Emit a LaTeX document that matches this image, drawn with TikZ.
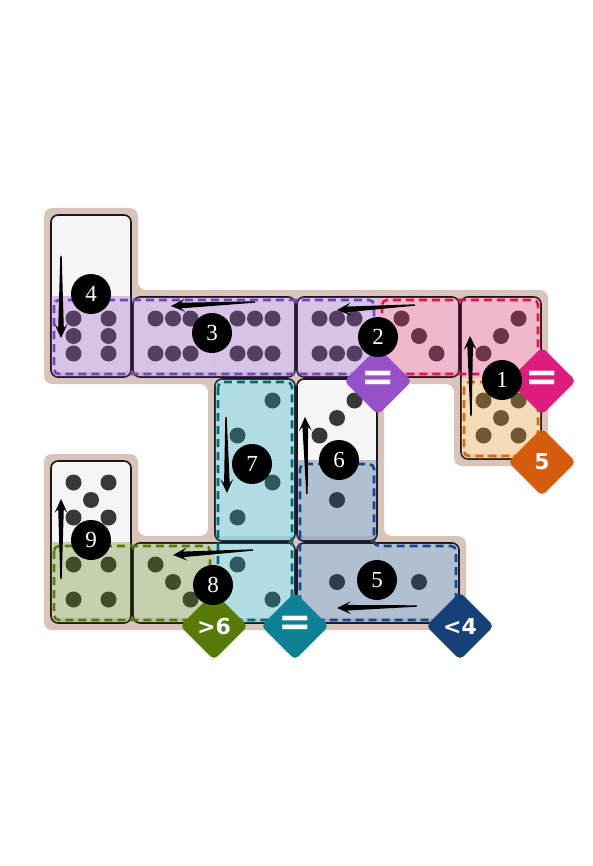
\documentclass[tikz,border=0pt]{standalone}
\usepackage{fontspec}
\setmainfont{Liberation Serif}
\newfontfamily\djb{DejaVu Sans}
\usetikzlibrary{calc,shapes.geometric}
\definecolor{halo}{RGB}{216,196,187}
\definecolor{dbody}{RGB}{244,245,244}
\definecolor{dlip}{RGB}{220,221,220}
\definecolor{dedge}{RGB}{30,22,30}
\definecolor{pipc}{RGB}{56,56,56}
\definecolor{rpur}{RGB}{150,80,200}
\definecolor{dpur}{RGB}{115,70,185}
\definecolor{rpnk}{RGB}{222,28,125}
\definecolor{fpnk}{RGB}{235,40,110}
\definecolor{dpnk}{RGB}{225,20,85}
\definecolor{rorg}{RGB}{212,92,12}
\definecolor{forg}{RGB}{245,165,40}
\definecolor{dorg}{RGB}{215,105,20}
\definecolor{rtea}{RGB}{14,130,148}
\definecolor{ftea}{RGB}{20,170,185}
\definecolor{dtea}{RGB}{10,105,110}
\definecolor{rblu}{RGB}{22,64,120}
\definecolor{fblu}{RGB}{25,70,130}
\definecolor{dblu}{RGB}{25,70,140}
\definecolor{rgrn}{RGB}{88,122,8}
\definecolor{fgrn}{RGB}{90,125,15}
\definecolor{dgrn}{RGB}{95,120,10}
\tikzset{
  dedgestyle/.style={draw=dedge, line width=1.6pt, rounded corners=7pt},
  divc/.style={draw=black!7, line width=0.8pt},
  regdash/.style={line width=2.6pt, dash pattern=on 8pt off 5pt, rounded corners=5pt},
  numc/.style={circle, fill=black, minimum size=40pt, inner sep=0pt, text=white, font=\fontsize{23}{23}\selectfont},
  diam/.style={shape=diamond, aspect=1, minimum size=68pt, inner sep=0pt, rounded corners=5pt, text=white, font=\djb\bfseries\fontsize{22}{22}\selectfont},
  eqfont/.style={font=\djb\bfseries\fontsize{40}{40}\selectfont},
}
% domino body
\newcommand\dmnbase[4]{%
  \fill[dlip, rounded corners=7pt] (#1+1,#2+1) rectangle (#3-1,#4-1);
  \fill[dbody, rounded corners=7pt] (#1+1,#2+1) rectangle (#3-1,#4-6);}
\newcommand\dmnv[4]{\dmnbase{#1}{#2}{#3}{#4}%
  \draw[divc] (#1+3,{(#2+#4)/2}) -- (#3-3,{(#2+#4)/2});
  \draw[dedgestyle] (#1+1,#2+1) rectangle (#3-1,#4-1);}
\newcommand\dmnh[4]{\dmnbase{#1}{#2}{#3}{#4}%
  \draw[divc] ({(#1+#3)/2},#2+3) -- ({(#1+#3)/2},#4-6);
  \draw[dedgestyle] (#1+1,#2+1) rectangle (#3-1,#4-1);}
% pip at cell centre + offset
\newcommand\pp[4]{\fill[pipc] ({#1+#3*17.5},{#2-1+#4*17.5}) circle[radius=8];}
% overlay of a cell clipped to its domino
\newcommand\ovl[9]{\begin{scope}\clip[rounded corners=7pt] (#1+1,#2+1) rectangle (#3-1,#4-1);
  \fill[#9, fill opacity=0.3] (#5,#6) rectangle (#7,#8);\end{scope}}
% tapered arrow from tail #1 to tip #2
\newcommand\tarrow[2]{%
  \path ($(#2)!10pt!(#1)$) coordinate (hn) ($(#2)!14pt!(#1)$) coordinate (hw);
  \fill[black] ($(#1)!0.7pt!90:(#2)$) -- ($(hn)!2.8pt!90:(#2)$) -- ($(hw)!6.5pt!90:(#2)$) -- (#2)
    -- ($(hw)!6.5pt!-90:(#2)$) -- ($(hn)!2.8pt!-90:(#2)$) -- ($(#1)!0.7pt!-90:(#2)$) -- cycle;}
\begin{document}
\begin{tikzpicture}[x=1pt,y=-1pt]
\useasboundingbox (0,0) rectangle (593,866);
\fill[white] (0,0) rectangle (593,866);
% halo
\fill[halo, rounded corners=8pt] (44,208) -- (138,208) -- (138,290) -- (548,290) -- (548,466) -- (454,466) -- (454,384) -- (384,384) -- (384,536) -- (466,536) -- (466,630) -- (44,630) -- (44,454) -- (138,454) -- (138,536) -- (208,536) -- (208,384) -- (44,384) -- cycle;
% dominoes
\dmnv{50}{214}{132}{378}
\dmnh{132}{296}{296}{378}
\dmnh{296}{296}{460}{378}
\dmnv{460}{296}{542}{460}
\dmnv{214}{378}{296}{542}
\dmnv{296}{378}{378}{542}
\dmnv{50}{460}{132}{624}
\dmnh{132}{542}{296}{624}
\dmnh{296}{542}{460}{624}
% pips
\pp{91}{337}{-1}{-1}\pp{91}{337}{-1}{0}\pp{91}{337}{-1}{1}\pp{91}{337}{1}{-1}\pp{91}{337}{1}{0}\pp{91}{337}{1}{1}
\foreach \cx in {173,255,337}{\pp{\cx}{337}{-1}{-1}\pp{\cx}{337}{0}{-1}\pp{\cx}{337}{1}{-1}\pp{\cx}{337}{-1}{1}\pp{\cx}{337}{0}{1}\pp{\cx}{337}{1}{1}}
\pp{419}{337}{-1}{-1}\pp{419}{337}{0}{0}\pp{419}{337}{1}{1}
\pp{501}{337}{1}{-1}\pp{501}{337}{0}{0}\pp{501}{337}{-1}{1}
\pp{501}{419}{-1}{-1}\pp{501}{419}{1}{-1}\pp{501}{419}{0}{0}\pp{501}{419}{-1}{1}\pp{501}{419}{1}{1}
\pp{255}{419}{1}{-1}\pp{255}{419}{-1}{1}
\pp{255}{501}{1}{-1}\pp{255}{501}{-1}{1}
\pp{337}{419}{1}{-1}\pp{337}{419}{0}{0}\pp{337}{419}{-1}{1}
\pp{337}{501}{0}{0}
\pp{91}{501}{-1}{-1}\pp{91}{501}{1}{-1}\pp{91}{501}{0}{0}\pp{91}{501}{-1}{1}\pp{91}{501}{1}{1}
\pp{91}{583}{-1}{-1}\pp{91}{583}{1}{-1}\pp{91}{583}{-1}{1}\pp{91}{583}{1}{1}
\pp{173}{583}{-1}{-1}\pp{173}{583}{0}{0}\pp{173}{583}{1}{1}
\pp{255}{583}{-1}{-1}\pp{255}{583}{1}{1}
\pp{337}{583}{0}{0}
\pp{419}{583}{0}{0}
% region overlays
\ovl{50}{214}{132}{378}{50}{296}{132}{378}{rpur}
\ovl{132}{296}{296}{378}{132}{296}{296}{378}{rpur}
\ovl{296}{296}{460}{378}{296}{296}{378}{378}{rpur}
\ovl{296}{296}{460}{378}{378}{296}{460}{378}{fpnk}
\ovl{460}{296}{542}{460}{460}{296}{542}{378}{fpnk}
\ovl{460}{296}{542}{460}{460}{378}{542}{460}{forg}
\ovl{214}{378}{296}{542}{214}{378}{296}{542}{ftea}
\ovl{132}{542}{296}{624}{214}{542}{296}{624}{ftea}
\ovl{296}{378}{378}{542}{296}{460}{378}{542}{fblu}
\ovl{296}{542}{460}{624}{296}{542}{460}{624}{fblu}
\ovl{50}{460}{132}{624}{50}{542}{132}{624}{fgrn}
\ovl{132}{542}{296}{624}{132}{542}{214}{624}{fgrn}
% dashed region borders
\draw[regdash, draw=dpur] (54,300) rectangle (374,374);
\draw[regdash, draw=dpnk] (382,300) rectangle (538,374);
\draw[regdash, draw=dorg] (464,382) rectangle (538,456);
\draw[regdash, draw=dtea] (218,382) rectangle (292,620);
\draw[regdash, draw=dblu] (300,464) -- (374,464) -- (374,546) -- (456,546) -- (456,620) -- (300,620) -- cycle;
\draw[regdash, draw=dgrn] (54,546) rectangle (210,620);
% arrows
\coordinate (a1t) at (471,416); \coordinate (a1h) at (470,336);
\coordinate (a2t) at (415,305); \coordinate (a2h) at (337,310);
\coordinate (a3t) at (255,302); \coordinate (a3h) at (171,306);
\coordinate (a4t) at (61,256);  \coordinate (a4h) at (61,338);
\coordinate (a5t) at (417,606); \coordinate (a5h) at (337,608);
\coordinate (a6t) at (307,494); \coordinate (a6h) at (305,417);
\coordinate (a7t) at (226,417); \coordinate (a7h) at (227,493);
\coordinate (a8t) at (253,550); \coordinate (a8h) at (173,555);
\coordinate (a9t) at (61,579);  \coordinate (a9h) at (61,499);
\tarrow{a1t}{a1h}\tarrow{a2t}{a2h}\tarrow{a3t}{a3h}\tarrow{a4t}{a4h}\tarrow{a5t}{a5h}
\tarrow{a6t}{a6h}\tarrow{a7t}{a7h}\tarrow{a8t}{a8h}\tarrow{a9t}{a9h}
% constraint diamonds
\node[diam, fill=rpur, eqfont] (qpur) at (378,381) {=};
\node[diam, fill=rpnk, eqfont] (qpnk) at (542,381) {=};
\node[diam, fill=rorg] (qorg) at (542,462) {5};
\node[diam, fill=rtea, eqfont] (qtea) at (295,626) {=};
\node[diam, fill=rblu] (qblu) at (460,626) {<4};
\node[diam, fill=rgrn] (qgrn) at (214,626) {>6};
% numbered circles
\node[numc] (n1) at (502,380) {1};
\node[numc] (n2) at (378,337) {2};
\node[numc] (n3) at (212,333) {3};
\node[numc] (n4) at (91,294) {4};
\node[numc] (n5) at (377,580) {5};
\node[numc] (n6) at (339,460) {6};
\node[numc] (n7) at (252,464) {7};
\node[numc] (n8) at (213,585) {8};
\node[numc] (n9) at (91,540) {9};
\end{tikzpicture}
\end{document}
